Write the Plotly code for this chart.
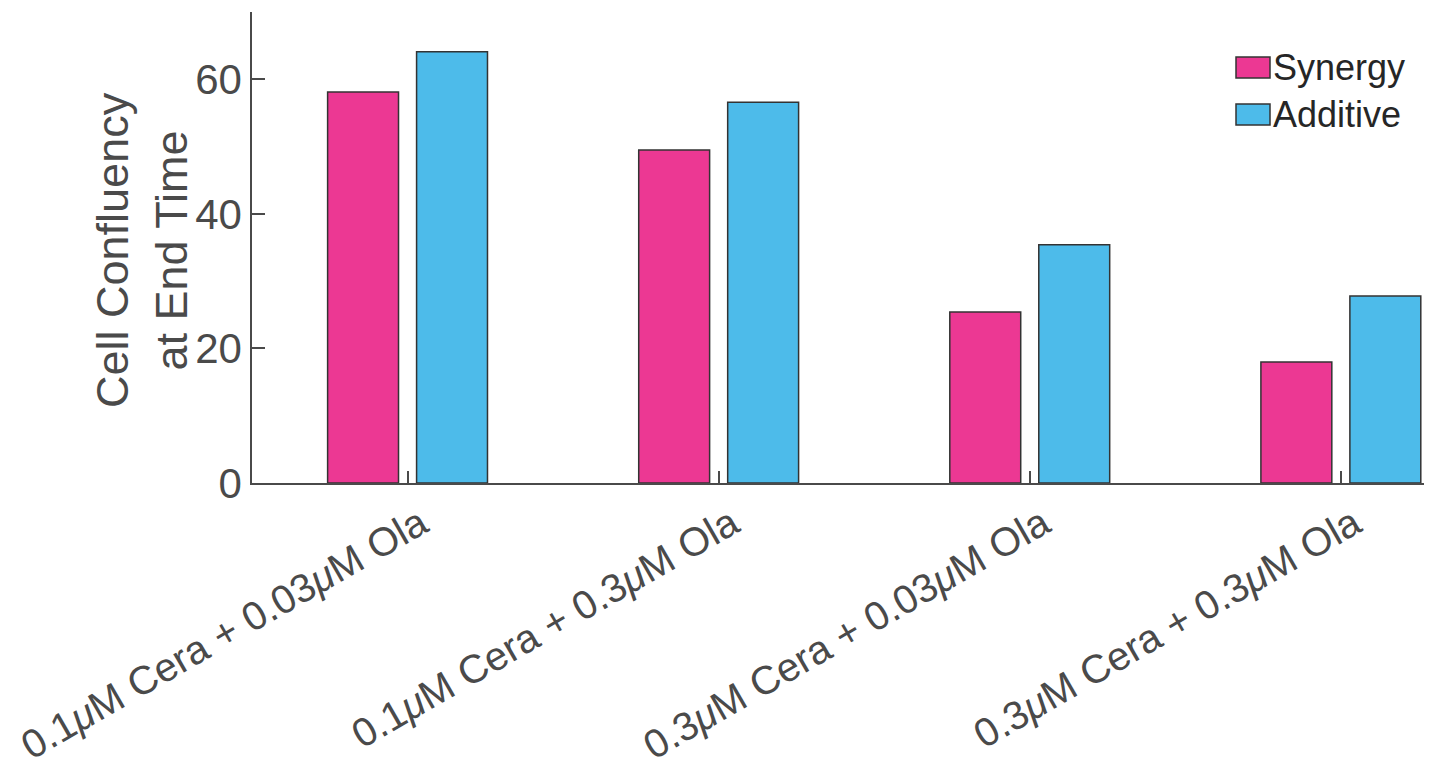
import plotly.graph_objects as go

categories = [
    "0.1<i>μ</i>M Cera + 0.03<i>μ</i>M Ola",
    "0.1<i>μ</i>M Cera + 0.3<i>μ</i>M Ola",
    "0.3<i>μ</i>M Cera + 0.03<i>μ</i>M Ola",
    "0.3<i>μ</i>M Cera + 0.3<i>μ</i>M Ola",
]
synergy = [58.1, 49.5, 25.4, 18.0]
additive = [64.1, 56.6, 35.4, 27.8]
series_names = ["Synergy", "Additive"]
series_colors = ["#EC3893", "#4DBBEA"]
y_ticks = [0, 20, 40, 60]
y_title = "Cell Confluency<br>at End Time"

W, H = 1432, 777
OFF = 8  # page offset of the figure div
L, T, B, R = 252 - OFF, 12 - OFF, 483 - OFF, 1432 - OFF  # plot area in figure pixels

AX = "#4a4a4a"
FONT = "Liberation Sans, Arial, sans-serif"

fig = go.Figure()
for name, vals, col in zip(series_names, [synergy, additive], series_colors):
    fig.add_trace(go.Bar(
        x=list(range(len(categories))), y=vals, name=name,
        marker=dict(color=col, line=dict(color="#333333", width=1.5)),
        showlegend=False,
    ))

fig.update_layout(
    width=W, height=H,
    margin=dict(l=L, r=W - R, t=T, b=H - B, pad=0, autoexpand=False),
    paper_bgcolor="white", plot_bgcolor="white",
    barmode="group", bargap=0.428, bargroupgap=0.203,
    font=dict(family=FONT, color=AX),
    xaxis=dict(
        range=[-0.5, 3.293], tickmode="array",
        tickvals=list(range(len(categories))), ticktext=categories,
        tickangle=-30, tickfont=dict(size=40, color=AX),
        ticklabeloverflow="allow", automargin=False, ticklabelshift=13,
        ticks="inside", ticklen=12, tickwidth=1.5, tickcolor=AX,
        showline=True, linecolor=AX, linewidth=1.5,
        showgrid=False, zeroline=False,
    ),
    yaxis=dict(
        range=[0, 70], tickvals=y_ticks, automargin=False,
        tickfont=dict(size=42, color=AX),
        ticks="inside", ticklen=13, tickwidth=1.5, tickcolor=AX,
        showline=True, linecolor=AX, linewidth=1.5,
        showgrid=False, zeroline=False,
    ),
)

def px2paper(x, y):
    x -= OFF
    y -= OFF
    return (x - L) / (R - L), (B - y) / (B - T)

# y-axis title as rotated annotation
tx, ty = px2paper(142, 250)
fig.add_annotation(xref="paper", yref="paper", x=tx, y=ty,
                   xanchor="center", yanchor="middle", showarrow=False,
                   textangle=-90, text=y_title,
                   font=dict(size=45, color=AX, family=FONT))

# custom legend (large swatches like the reference)
legend_rows = [(57, 78), (104, 125)]
for (y0, y1), name, col in zip(legend_rows, series_names, series_colors):
    x0p, y0p = px2paper(1236, y1)
    x1p, y1p = px2paper(1270, y0)
    fig.add_shape(type="rect", xref="paper", yref="paper",
                  x0=x0p, x1=x1p, y0=y0p, y1=y1p,
                  fillcolor=col, line=dict(color="#333333", width=1.5))
    tx, ty = px2paper(1271, (y0 + y1) / 2)
    fig.add_annotation(xref="paper", yref="paper", x=tx, y=ty,
                       xanchor="left", yanchor="middle", showarrow=False,
                       text=name, font=dict(size=36, color="#262626", family=FONT))

fig.write_html("out.html")
